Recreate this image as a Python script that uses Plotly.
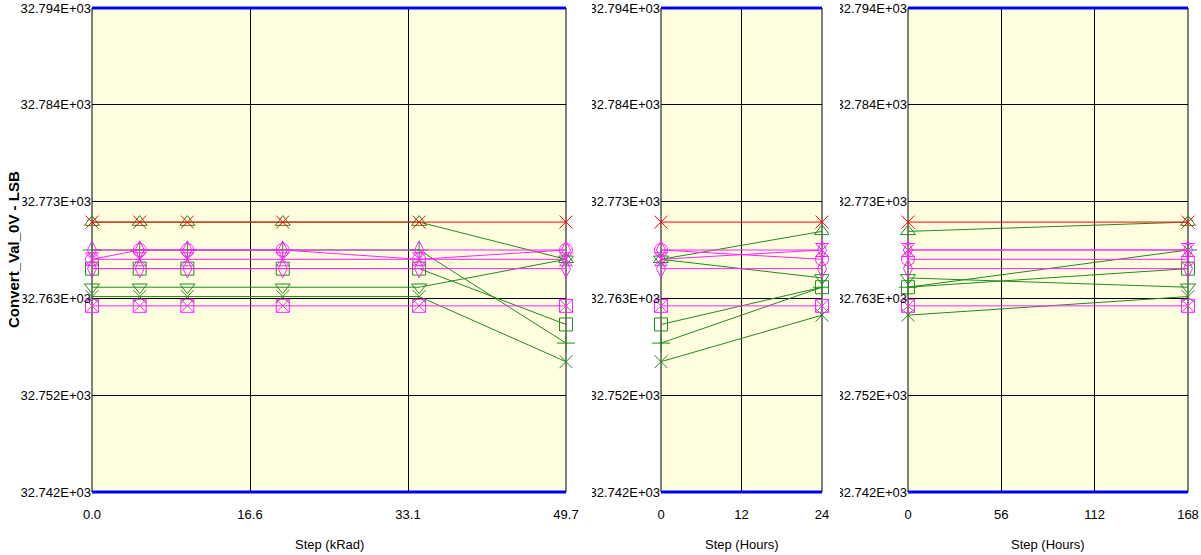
import plotly.graph_objects as go

# ---------------- data ----------------
x_tid = [0, 5, 10, 20, 34.3, 49.7]          # Step (kRad)
x_ann24 = [0, 24]                            # Step (Hours)
x_ann168 = [0, 168]                          # Step (Hours)

x_tid_ticks = [0, 16.567, 33.133, 49.7]
x_tid_text = ["0.0", "16.6", "33.1", "49.7"]
x_ann24_ticks = [0, 12, 24]
x_ann168_ticks = [0, 56, 112, 168]

y_ticks = [32742, 32752.4, 32762.8, 32773.2, 32783.6, 32794]
y_text = ["32.742E+03", "32.752E+03", "32.763E+03", "32.773E+03", "32.784E+03", "32.794E+03"]

# green devices
g_triup_tid = [32771, 32771, 32771, 32771, 32771, 32767]
g_triup_a24 = [32767, 32770]
g_triup_a168 = [32770, 32771]

g_tridn_tid = [32764, 32764, 32764, 32764, 32764, 32767]
g_tridn_a24 = [32767, 32765]
g_tridn_a168 = [32765, 32764]

g_plus_tid = [32768, 32768, 32768, 32768, 32768, 32758]
g_plus_a24 = [32758, 32764]
g_plus_a168 = [32764, 32768]

g_sq_tid = [32766, 32766, 32766, 32766, 32766, 32760]
g_sq_a24 = [32760, 32764]
g_sq_a168 = [32764, 32766]

g_x_tid = [32763, 32763, 32763, 32763, 32763, 32756]
g_x_a24 = [32756, 32761]
g_x_a168 = [32761, 32763]

# magenta devices
m_circ_tid = [32767, 32768, 32768, 32768, 32767, 32768]
m_circ_a24 = [32768, 32767]
m_circ_a168 = [32767, 32767]

m_dia_tid = [32768, 32768, 32768, 32768, 32768, 32768]
m_dia_a24 = [32768, 32768]
m_dia_a168 = [32768, 32768]

m_hg_tid = [32767, 32767, 32767, 32767, 32767, 32767]
m_hg_a24 = [32767, 32768]
m_hg_a168 = [32768, 32768]

m_dia2_tid = [32766, 32766, 32766, 32766, 32766, 32766]
m_dia2_a24 = [32766, 32766]
m_dia2_a168 = [32766, 32766]

m_sqx_tid = [32762, 32762, 32762, 32762, 32762, 32762]
m_sqx_a24 = [32762, 32762]
m_sqx_a168 = [32762, 32762]

# red device
r_x_tid = [32771, 32771, 32771, 32771, 32771, 32771]
r_x_a24 = [32771, 32771]
r_x_a168 = [32771, 32771]

# ---------------- styling ----------------
GREEN = "#1f8a1f"
MAGENTA = "#ff22ff"
RED = "#ff0000"

series = [
    (GREEN, "triangle-up-open", g_triup_tid, g_triup_a24, g_triup_a168),
    (GREEN, "triangle-down-open", g_tridn_tid, g_tridn_a24, g_tridn_a168),
    (GREEN, "cross-thin-open", g_plus_tid, g_plus_a24, g_plus_a168),
    (GREEN, "square-open", g_sq_tid, g_sq_a24, g_sq_a168),
    (GREEN, "x-thin-open", g_x_tid, g_x_a24, g_x_a168),
    (MAGENTA, "circle-open", m_circ_tid, m_circ_a24, m_circ_a168),
    (MAGENTA, "diamond-tall-open", m_dia_tid, m_dia_a24, m_dia_a168),
    (MAGENTA, "hourglass-open", m_hg_tid, m_hg_a24, m_hg_a168),
    (MAGENTA, "diamond-tall-open", m_dia2_tid, m_dia2_a24, m_dia2_a168),
    (MAGENTA, "square-x-open", m_sqx_tid, m_sqx_a24, m_sqx_a168),
    (RED, "x-thin-open", r_x_tid, r_x_a24, r_x_a168),
]

panels = [("x", "y", x_tid), ("x2", "y2", x_ann24), ("x3", "y3", x_ann168)]

fig = go.Figure()
for color, sym, *vals in series:
    for (xa, ya, xs), ys in zip(panels, vals):
        fig.add_trace(go.Scatter(
            x=xs, y=ys, xaxis=xa, yaxis=ya, mode="lines+markers",
            line=dict(color=color, width=1),
            marker=dict(symbol=sym, size=13, color=color, line=dict(width=1, color=color)),
            cliponaxis=False, showlegend=False, hoverinfo="skip"))

W, H = 1201, 555
def px(v):
    return v / W
def py(v):
    return 1 - v / H

doms = [(92, 566), (661, 822), (908, 1188)]
ranges = [[0, 49.7], [0, 24], [0, 168]]
xticks = [(x_tid_ticks, x_tid_text),
          (x_ann24_ticks, [str(v) for v in x_ann24_ticks]),
          (x_ann168_ticks, [str(v) for v in x_ann168_ticks])]
FAM = "Liberation Sans, Arial, sans-serif"
font = dict(family=FAM, size=13, color="#000")

layout = dict(
    width=W, height=H, margin=dict(l=0, r=0, t=0, b=0, autoexpand=False),
    paper_bgcolor="white", plot_bgcolor="#ffffe0", font=font,
)
ydom = [py(492), py(8)]
for i, ((a, b), rng, (tv, tt)) in enumerate(zip(doms, ranges, xticks)):
    sfx = "" if i == 0 else str(i + 1)
    layout["xaxis" + sfx] = dict(
        domain=[px(a), px(b)], range=rng, tickvals=tv, ticktext=tt,
        showgrid=True, gridcolor="#000", gridwidth=1, zeroline=False,
        showline=False, ticks="", ticklabelstandoff=13, automargin=False,
        anchor="y" + sfx, tickfont=font)
    layout["yaxis" + sfx] = dict(
        domain=ydom, range=[32742, 32794], tickvals=y_ticks, ticktext=y_text,
        showgrid=True, gridcolor="#000", gridwidth=1, zeroline=False,
        showline=False, ticks="", anchor="x" + sfx, tickfont=font,
        automargin=False)
fig.update_layout(**layout)

shapes = []
for (a, b) in doms:
    for xv in (a, b):
        shapes.append(dict(type="line", xref="paper", yref="paper",
                           x0=px(xv), x1=px(xv), y0=py(492), y1=py(8),
                           line=dict(color="#000", width=1), layer="below"))
    for yv in (8, 492):
        shapes.append(dict(type="line", xref="paper", yref="paper",
                           x0=px(a), x1=px(b), y0=py(yv), y1=py(yv),
                           line=dict(color="#0000ee", width=3), layer="above"))
# clip the leading characters of the inner y tick labels
for (a, b) in [(575, 592), (829, 840)]:
    shapes.append(dict(type="rect", xref="paper", yref="paper",
                       x0=px(a), x1=px(b), y0=py(500), y1=py(0),
                       fillcolor="white", line=dict(width=0), layer="above"))
fig.update_layout(shapes=shapes)

ann = []
for (a, b), t in zip(doms, ["Step (kRad)", "Step (Hours)", "Step (Hours)"]):
    ann.append(dict(text=t, x=px((a + b) / 2), y=py(544), xref="paper", yref="paper",
                    showarrow=False, xanchor="center", yanchor="middle",
                    font=dict(family=FAM, size=13, color="#000")))
ann.append(dict(text="<b>Convert_Val_0V - LSB</b>", x=px(13), y=py(250),
                xref="paper", yref="paper", showarrow=False, textangle=-90,
                xanchor="center", yanchor="middle", bgcolor="white", borderpad=0,
                font=dict(family=FAM, size=15, color="#000")))
fig.update_layout(annotations=ann)

fig.write_html("out.html")
